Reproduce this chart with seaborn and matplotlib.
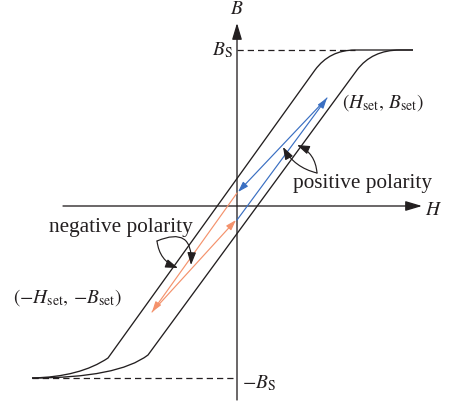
import matplotlib
matplotlib.use("Agg")
import matplotlib.pyplot as plt
from matplotlib.path import Path
from matplotlib.patches import PathPatch, FancyArrowPatch
import pandas as pd
import seaborn as sns

# ---- data (H, B in drawing units; origin at axis crossing) ----
B_SAT_POS = 156
B_SAT_NEG = -172

# descending branch of the loop: start, bend control, knee, straight run, bend control, bend end, flat end
desc_H = [-205, -157, -129, 78, 92.6, 118, 176]
desc_B = [-172, -171, -152, 136, 156, 156, 156]
# ascending branch
asc_H = [-205, -119, -89, 120, 135, 163, 176]
asc_B = [-172, -172, -149, 136, 156, 156, 156]

# minor loop, positive polarity (blue): up to (Hset, Bset) then back down
pos_H = [0, 90, 1]
pos_B = [-14, 108, 14]
# minor loop, negative polarity (orange): down to (-Hset, -Bset) then back up
neg_H = [0, -85, -1]
neg_B = [13, -106, -14]

# polarity pointers: junction point, the two arrow tips and their bend
pos_junction = (80, 33)
pos_tips = [(46, 59), (60, 61)]
pos_rads = [-0.22, 0.3]
neg_junction = (-80, -35)
neg_tips = [(-59, -62), (-46, -59)]
neg_rads = [0.3, -0.8]

BLUE = "#3a6fc2"
ORANGE = "#f4926c"
INK = "#231f20"

sns.set_theme(style="white")
plt.rcParams["font.family"] = ["Liberation Serif", "DejaVu Serif"]
plt.rcParams["mathtext.fontset"] = "stix"

fig = plt.figure(figsize=(4.49, 4.05), dpi=100)
ax = fig.add_axes([0, 0, 1, 1])

# saturation reference lines
sat = pd.DataFrame({"H": [0, 118], "B": [B_SAT_POS, B_SAT_POS]})
sns.lineplot(data=sat, x="H", y="B", ax=ax, color=INK, lw=0.9,
             linestyle=(0, (5, 3.2)), sort=False)
sat_n = pd.DataFrame({"H": [-205, 0], "B": [B_SAT_NEG, B_SAT_NEG]})
sns.lineplot(data=sat_n, x="H", y="B", ax=ax, color=INK, lw=0.9,
             linestyle=(0, (5, 3.2)), sort=False)

# hysteresis loop branches
codes = [Path.MOVETO, Path.CURVE3, Path.CURVE3, Path.LINETO,
         Path.CURVE3, Path.CURVE3, Path.LINETO]
for hs, bs in [(desc_H, desc_B), (asc_H, asc_B)]:
    path = Path(list(zip(hs, bs)), codes)
    ax.add_patch(PathPatch(path, fill=False, ec=INK, lw=0.95))

# axes with arrowheads
for start, end in [((-174, 0), (185, 0)), ((0, -194), (0, 183))]:
    ax.add_patch(FancyArrowPatch(start, end, arrowstyle="-|>,head_length=1.0,head_width=0.3",
                                 mutation_scale=10, lw=0.95, color=INK,
                                 shrinkA=0, shrinkB=0))

# minor loops
for hs, bs, col in [(pos_H, pos_B, BLUE), (neg_H, neg_B, ORANGE)]:
    for i in range(len(hs) - 1):
        ax.add_patch(FancyArrowPatch((hs[i], bs[i]), (hs[i + 1], bs[i + 1]),
                                     arrowstyle="-|>,head_length=0.62,head_width=0.2",
                                     mutation_scale=10, lw=0.85, color=col,
                                     shrinkA=0, shrinkB=0))

# polarity pointers
for junction, tips, rads in [(pos_junction, pos_tips, pos_rads),
                             (neg_junction, neg_tips, neg_rads)]:
    for tip, rad in zip(tips, rads):
        ax.add_patch(FancyArrowPatch(junction, tip,
                                     arrowstyle="-|>,head_length=0.75,head_width=0.26",
                                     connectionstyle=f"arc3,rad={rad}",
                                     mutation_scale=10, lw=0.85, color=INK,
                                     shrinkA=0, shrinkB=0))

fs = 14
ax.text(0, 196, r"$B$", ha="center", va="center", fontsize=fs, color=INK)
ax.text(188, -9, r"$H$", ha="left", va="baseline", fontsize=fs, color=INK)
ax.text(-4, 151, r"$B_{\mathrm{S}}$", ha="right", va="baseline", fontsize=fs, color=INK)
ax.text(5, -182, r"$-B_{\mathrm{S}}$", ha="left", va="baseline", fontsize=fs, color=INK)
ax.text(105, 98, r"$(H_{\mathrm{set}},\,B_{\mathrm{set}})$", ha="left", va="baseline",
        fontsize=fs, color=INK)
ax.text(-224, -97, r"$(-H_{\mathrm{set}},\,{-}B_{\mathrm{set}})$", ha="left", va="baseline",
        fontsize=fs, color=INK)
ax.text(56, 18, "positive polarity", ha="left", va="baseline", fontsize=15.3, color=INK)
ax.text(-188, -26, "negative polarity", ha="left", va="baseline", fontsize=15.3, color=INK)

ax.set_xlim(-237, 212)
ax.set_ylim(-199, 206)
ax.set_axis_off()
if ax.get_legend():
    ax.get_legend().remove()

fig.savefig("out.png", dpi=100, facecolor="white")
